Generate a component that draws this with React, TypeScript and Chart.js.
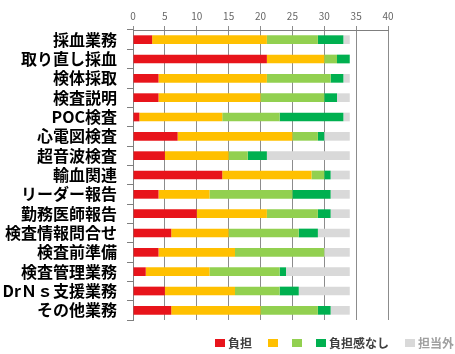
import { useEffect, useRef } from 'react';
import { Chart, registerables } from 'chart.js';

Chart.register(...registerables);

// 業務ごとの負担感（回答者数）
const categories = [
  '採血業務',
  '取り直し採血',
  '検体採取',
  '検査説明',
  'POC検査',
  '心電図検査',
  '超音波検査',
  '輸血関連',
  'リーダー報告',
  '勤務医師報告',
  '検査情報問合せ',
  '検査前準備',
  '検査管理業務',
  'DrＮｓ支援業務',
  'その他業務',
];

const burden = [3, 21, 4, 4, 1, 7, 5, 14, 4, 10, 6, 4, 2, 5, 6];
const burdenSome = [18, 9, 17, 16, 13, 18, 10, 14, 8, 11, 9, 12, 10, 11, 14];
const burdenLittle = [8, 2, 10, 10, 9, 4, 3, 2, 13, 8, 11, 14, 11, 7, 9];
const noBurden = [4, 2, 2, 2, 10, 1, 3, 1, 6, 2, 3, 0, 1, 3, 2];
const notInCharge = [1, 0, 1, 2, 1, 4, 13, 3, 3, 3, 5, 4, 10, 8, 3];

const seriesLabels = ['負担', '', '', '負担感なし', '担当外'];
const seriesColors = ['#E8141B', '#FFC000', '#92D050', '#00B050', '#D9D9D9'];

const axisMax = 40;
const axisStep = 5;

const FONT = "'Noto Sans CJK JP', 'Noto Sans', sans-serif";

// 凡例（グラフ下部に横並び）
const bottomLegend = {
  id: 'bottomLegend',
  afterDraw(chart: any) {
    const ctx = chart.ctx as CanvasRenderingContext2D;
    ctx.save();
    ctx.font = `bold 12px ${FONT}`;
    ctx.textBaseline = 'middle';
    ctx.textAlign = 'left';
    let x = 215;
    const y = 343;
    chart.data.datasets.forEach((ds: any, i: number) => {
      ctx.fillStyle = ds.backgroundColor;
      ctx.fillRect(x, y - 4, 10, 8);
      x += 10;
      if (ds.label) {
        x += 3;
        ctx.fillStyle = i === 4 ? '#a0a0a0' : '#404040';
        ctx.fillText(ds.label, x, y);
        x += ctx.measureText(ds.label).width + 16;
      } else {
        x += 14;
      }
    });
    ctx.restore();
  },
};

export default function App() {
  const canvasRef = useRef<HTMLCanvasElement | null>(null);

  useEffect(() => {
    if (!canvasRef.current) return;
    const values = [burden, burdenSome, burdenLittle, noBurden, notInCharge];
    const chart = new Chart(canvasRef.current, {
      type: 'bar',
      data: {
        labels: categories,
        datasets: values.map((v, i) => ({
          label: seriesLabels[i],
          data: v,
          backgroundColor: seriesColors[i],
          borderWidth: 0,
          barPercentage: 0.45,
          categoryPercentage: 1,
        })),
      },
      options: {
        indexAxis: 'y',
        responsive: false,
        animation: false,
        devicePixelRatio: 1,
        layout: { padding: { left: 0, right: 67, top: 0, bottom: 34 } },
        plugins: {
          legend: { display: false },
          tooltip: { enabled: false },
        },
        scales: {
          x: {
            position: 'top',
            stacked: true,
            min: 0,
            max: axisMax,
            ticks: {
              stepSize: axisStep,
              color: '#666666',
              font: { family: FONT, size: 10 },
              padding: 4,
            },
            grid: {
              color: '#8c8c8c',
              lineWidth: 1,
              tickLength: 4,
              drawTicks: true,
            },
            border: { color: '#7f7f7f' },
            afterFit(scale: any) {
              scale.height = 30;
            },
          },
          y: {
            stacked: true,
            ticks: {
              autoSkip: false,
              color: '#000000',
              font: { family: FONT, size: 16, weight: 'bold' },
              padding: 10,
            },
            grid: {
              drawOnChartArea: false,
              drawTicks: true,
              tickLength: 6,
              color: '#7f7f7f',
              offset: true,
            },
            border: { color: '#7f7f7f' },
            afterFit(scale: any) {
              scale.width = 133;
            },
          },
        },
      },
      plugins: [bottomLegend],
    });
    return () => chart.destroy();
  }, []);

  return (
    <div style={{ position: 'absolute', left: 0, top: 0, width: 455, height: 354, background: '#ffffff' }}>
      <canvas ref={canvasRef} width={455} height={354} />
    </div>
  );
}
